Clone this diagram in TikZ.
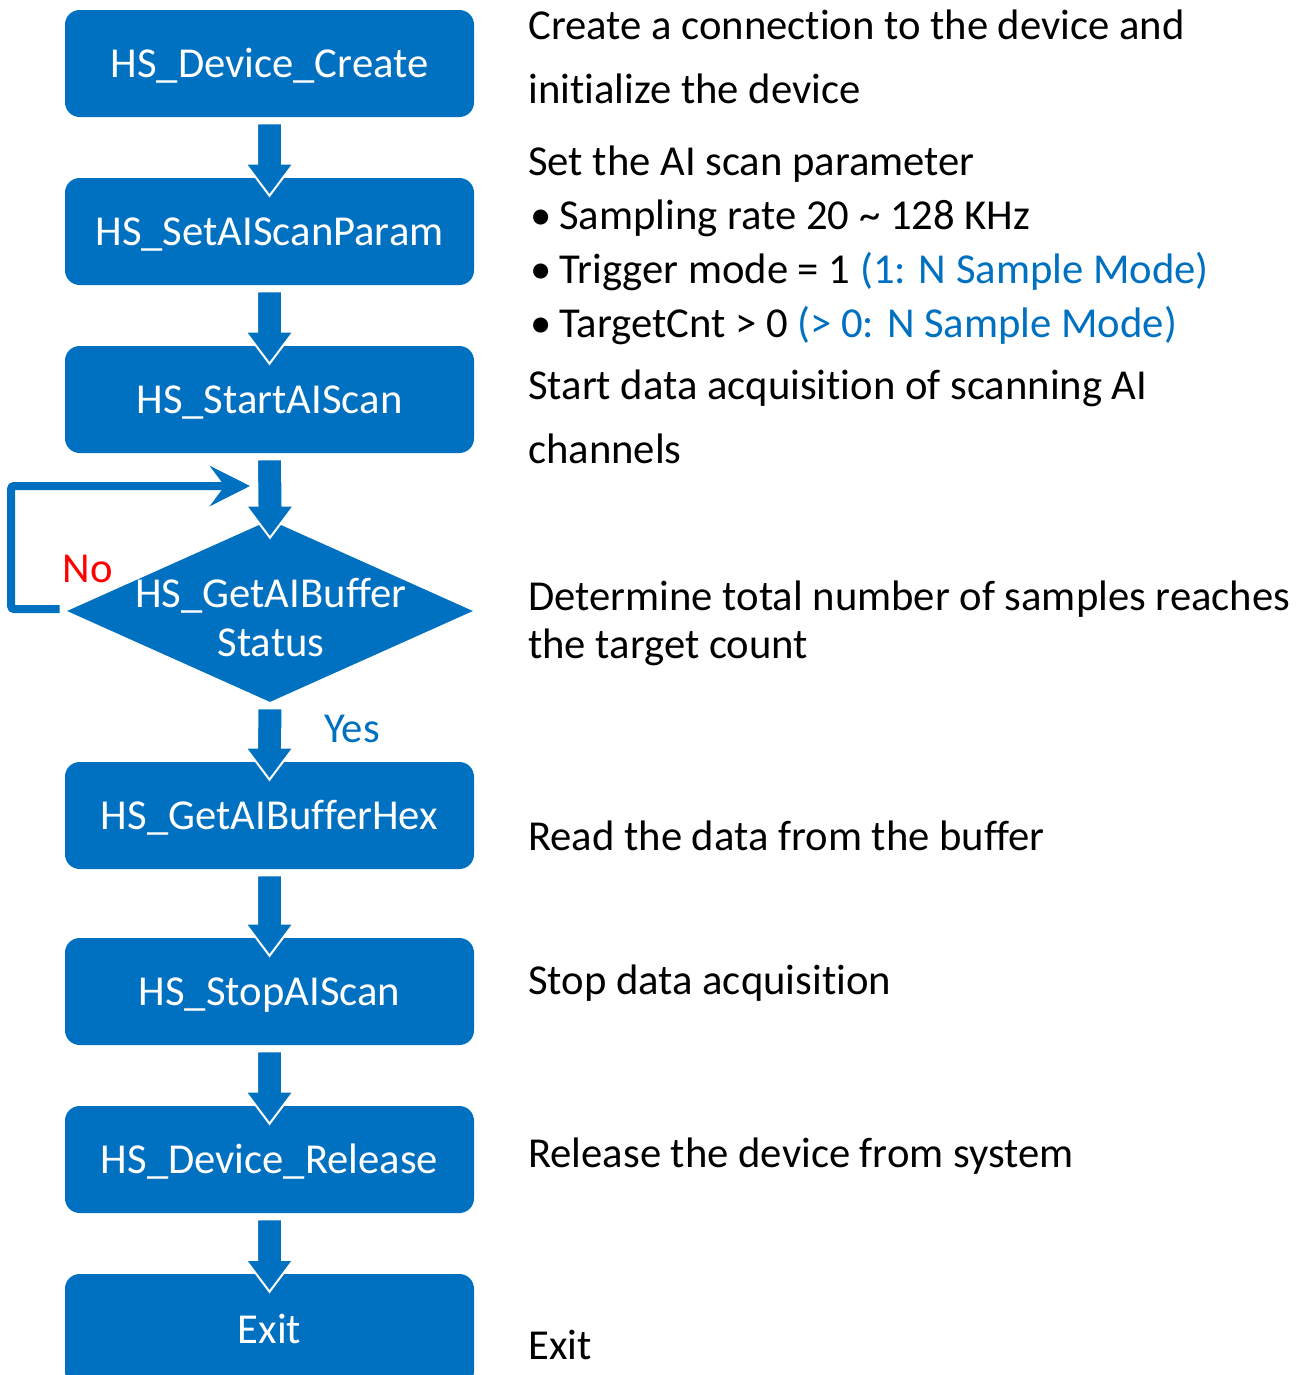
\documentclass[tikz,border=0pt]{standalone}
\usepackage{fontspec}
\setmainfont{Carlito}[Ligatures=NoCommon]
\usetikzlibrary{shapes.geometric,arrows.meta,calc}
\definecolor{myblue}{RGB}{0,112,192}
\definecolor{myred}{RGB}{255,0,0}
\tikzset{
  box/.style={draw=none,fill=myblue,rounded corners=11pt,minimum width=306.75pt,minimum height=80.25pt,inner sep=0pt,text=white,font=\fontsize{32}{40}\selectfont,text height=25.4pt,text depth=5pt},
  barrow/.style={fill=myblue,draw=white,line width=1.5pt,line join=miter},
  loopline/.style={draw=myblue,line width=6pt,rounded corners=2pt,-{Stealth[length=30pt,width=30pt,inset=11pt]}},
  desc/.style={anchor=base west,inner sep=0pt,align=left,font=\fontsize{32}{48}\selectfont},
  lbl/.style={anchor=base,inner sep=0pt,font=\fontsize{32}{40}\selectfont}
}
\newcommand\blockarrow[2]{%
  \filldraw[barrow] ($(#1.south)+(-12.5,6)$) -- ($(#2.north)+(-12.5,-14)$) -- ($(#2.north)+(-24,-14)$) -- ($(#2.north)+(0,18)$) -- ($(#2.north)+(24,-14)$) -- ($(#2.north)+(12.5,-14)$) -- ($(#1.south)+(12.5,6)$) -- cycle;}
\newcommand\bul{\makebox[23.25pt][l]{\hspace{1.5pt}•}}
\begin{document}
\begin{tikzpicture}[x=0.75pt,y=-0.75pt]
\useasboundingbox (0,0) rectangle (1304,1375);
% boxes
\node[box] (n1) at (269.5,63.5) {HS\_Device\_Create};
\node[box] (n2) at (269.5,231.5) {HS\_SetAIScanParam};
\node[box] (n3) at (269.5,399.5) {HS\_StartAIScan};
\node[diamond,fill=myblue,draw=none,inner sep=0pt,minimum width=304.5pt,minimum height=136.5pt] (d) at (270,611) {};
\node[inner sep=0pt,align=center,text=white,font=\fontsize{32}{36.75}\selectfont] (dt) at (271,617.5) {HS\_GetAIBuffer\\Status};
\node[box] (n5) at (269.5,815.5) {HS\_GetAIBufferHex};
\node[box] (n6) at (269.5,991.5) {HS\_StopAIScan};
\node[box] (n7) at (269.5,1159.5) {HS\_Device\_Release};
\node[box,minimum height=84pt] (n8) at (269.5,1330) {Exit};
% block arrows
\blockarrow{n1}{n2}
\blockarrow{n2}{n3}
\blockarrow{n3}{d}
\blockarrow{d}{n5}
\blockarrow{n5}{n6}
\blockarrow{n6}{n7}
\blockarrow{n7}{n8}
% loop
\coordinate (back) at (250,486);
\draw[loopline] ($(d.west)+(-7,-2)$) -- ++(-48.5,0) |- (back);
\node[lbl,text=myred] (no) at (88,582) {No};
\node[lbl,text=myblue] (yes) at (352,742) {Yes};
% descriptions
\node[desc] (t1) at (528,103) {Create a connection to the device and\\initialize the device};
\node[desc,font=\fontsize{32}{40.5}\selectfont] (t2) at (528,337) {Set the AI scan parameter\\
\bul Sampling rate 20 \char`~\ 128 KHz\\
\bul Trigger mode = 1 \textcolor{myblue}{(1: N Sample Mode)}\\
\bul TargetCnt > 0 \textcolor{myblue}{(> 0: N Sample Mode)}};
\node[desc] (t3) at (528,463) {Start data acquisition of scanning AI\\channels};
\node[desc,font=\fontsize{32}{36}\selectfont] (t4) at (528,658) {Determine total number of samples reaches\\the target count};
\node[desc] (t5) at (528,850) {Read the data from the buffer};
\node[desc] (t6) at (528,994) {Stop data acquisition};
\node[desc] (t7) at (528,1167) {Release the device from system};
\node[desc] (t8) at (528,1359) {Exit};
\end{tikzpicture}
\end{document}
